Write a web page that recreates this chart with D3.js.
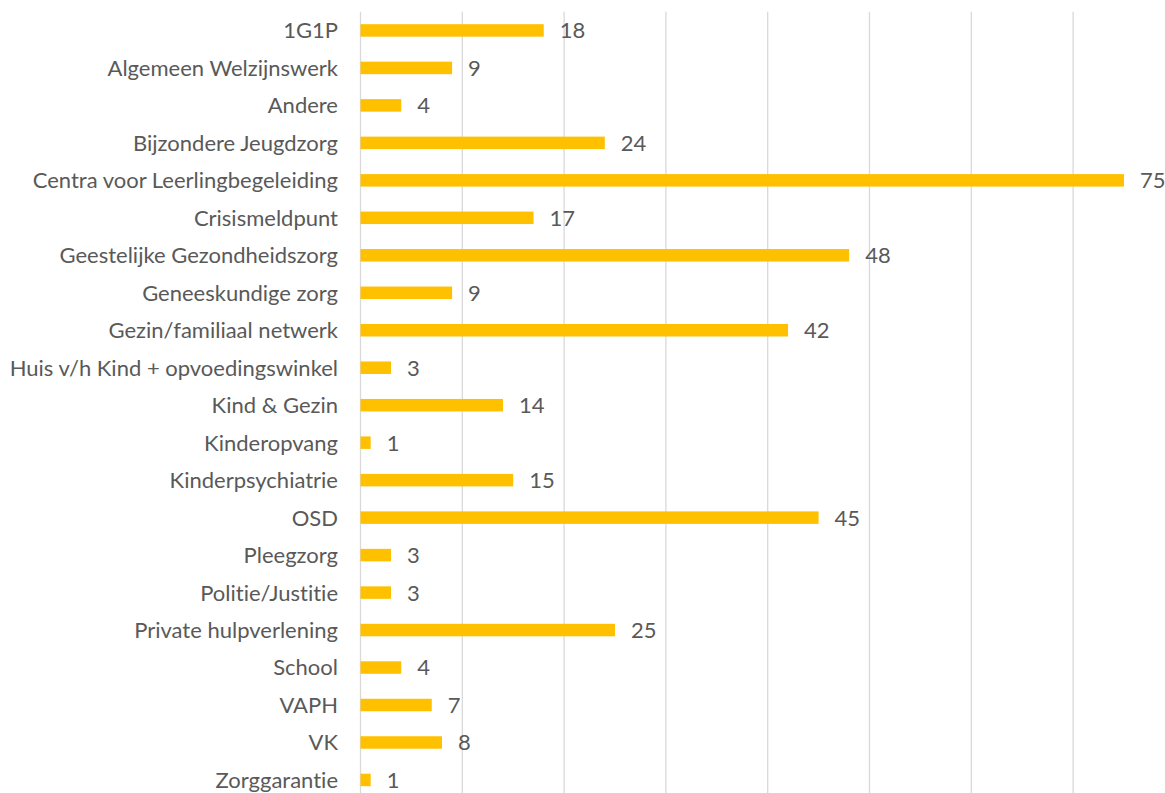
<!DOCTYPE html>
<html>
<head>
<meta charset="utf-8">
<script src="https://cdnjs.cloudflare.com/ajax/libs/d3/7.8.5/d3.min.js"></script>
<style>
  body { margin: 0; background: #fff; }
  svg text { font-family: Lato, "Open Sans", sans-serif; fill: #595959; font-variant-ligatures: none; }
</style>
</head>
<body>
<svg id="chart" width="1165" height="793"></svg>
<script>
// categories and counts, top to bottom
var categories = ["1G1P", "Algemeen Welzijnswerk", "Andere", "Bijzondere Jeugdzorg",
	"Centra voor Leerlingbegeleiding", "Crisismeldpunt", "Geestelijke Gezondheidszorg",
	"Geneeskundige zorg", "Gezin/familiaal netwerk", "Huis v/h Kind + opvoedingswinkel",
	"Kind & Gezin", "Kinderopvang", "Kinderpsychiatrie", "OSD", "Pleegzorg",
	"Politie/Justitie", "Private hulpverlening", "School", "VAPH", "VK", "Zorggarantie"];
var values = [18, 9, 4, 24, 75, 17, 48, 9, 42, 3, 14, 1, 15, 45, 3, 3, 25, 4, 7, 8, 1];
var gridTicks = [0, 10, 20, 30, 40, 50, 60, 70, 80];

var svg = d3.select("#chart");

// plot area (runs a bit past the bottom and right of the window)
var plotLeft = 360.5, plotTop = 11.7;
var plotW = 814.4, plotH = 787;

var x = d3.scaleLinear()
	.domain([0, 80])
	.range([plotLeft, plotLeft + plotW]);

var y = d3.scaleBand()
	.domain(categories)
	.range([plotTop, plotTop + plotH])
	.paddingInner(2 / 3)
	.paddingOuter(1 / 3);

// vertical gridlines
svg.append("g")
	.selectAll("line")
	.data(gridTicks)
	.enter().append("line")
	.attr("x1", function(d) { return x(d); })
	.attr("x2", function(d) { return x(d); })
	.attr("y1", plotTop)
	.attr("y2", plotTop + plotH)
	.attr("stroke", "#d9d9d9")
	.attr("stroke-width", 1.3);

// bars
svg.append("g")
	.selectAll("rect")
	.data(values)
	.enter().append("rect")
	.attr("x", x(0))
	.attr("y", function(d, i) { return y(categories[i]); })
	.attr("width", function(d) { return x(d) - x(0); })
	.attr("height", y.bandwidth())
	.attr("fill", "#ffc000");

// value labels
svg.append("g")
	.selectAll("text")
	.data(values)
	.enter().append("text")
	.attr("x", function(d) { return x(d) + 16; })
	.attr("y", function(d, i) { return y(categories[i]) + y.bandwidth() / 2; })
	.attr("dy", "0.36em")
	.style("font-size", "22px")
	.text(function(d) { return d; });

// category axis (no line, no ticks)
var yAxis = svg.append("g")
	.attr("transform", "translate(" + (plotLeft - 22.5) + ",0)")
	.call(d3.axisLeft(y).tickSize(0).tickPadding(0));
yAxis.select(".domain").remove();
yAxis.selectAll("text")
	.attr("dy", "0.36em")
	.style("font-size", "22px")
	.style("font-family", "Lato, 'Open Sans', sans-serif")
	.attr("fill", "#595959");
</script>
</body>
</html>
